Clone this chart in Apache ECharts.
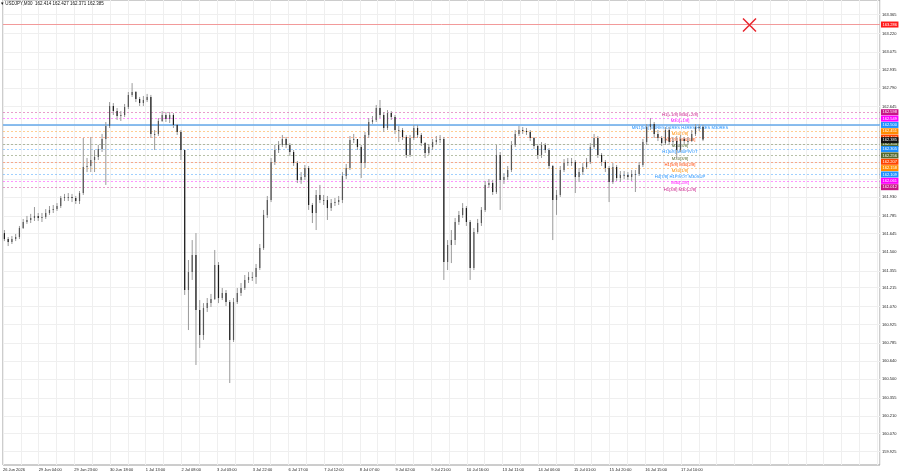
<!DOCTYPE html>
<html>
<head>
<meta charset="utf-8">
<title>USDJPY,M30</title>
<script src="https://cdn.jsdelivr.net/npm/echarts@6.0.0/dist/echarts.min.js"></script>
<style>
  html, body { margin: 0; padding: 0; background: #fff; }
  #chart { width: 900px; height: 474px; }
</style>
</head>
<body>
<div id="chart"></div>
<script>
// USDJPY M30, shown here as 2-hour candles (4 M30 bars each)
var SYMBOL = 'USDJPY,M30';
var LAST_OHLC = [162.414, 162.427, 162.371, 162.385];
var BARS_PER_CANDLE = 4;
var LAST_BAR = 747;          // index of the last M30 bar
var X_MAX = 934;             // empty space on the right (chart shift)
var Y_MIN = 159.824;
var Y_MAX = 163.483;
var FIRST_OPEN = 161.649;

var closes = [
  161.602, 161.578, 161.602, 161.618, 161.689, 161.736, 161.752, 161.768, 161.784, 161.768,
  161.776, 161.807, 161.831, 161.838, 161.862, 161.925, 161.933, 161.933, 161.925, 161.901,
  161.964, 162.169, 162.177, 162.224, 162.248, 162.310, 162.389, 162.492, 162.649, 162.609,
  162.570, 162.578, 162.641, 162.736, 162.759, 162.704, 162.672, 162.696, 162.720, 162.429,
  162.429, 162.531, 162.578, 162.546, 162.578, 162.500, 162.444, 162.303, 161.201, 161.342,
  161.477, 161.044, 160.847, 161.059, 161.098, 161.130, 161.398, 161.138, 161.177, 161.106,
  160.808, 161.106, 161.177, 161.217, 161.280, 161.303, 161.303, 161.374, 161.531, 161.792,
  161.909, 162.208, 162.303, 162.342, 162.389, 162.342, 162.287, 162.200, 162.067, 162.090,
  162.161, 161.870, 161.807, 161.949, 161.909, 161.909, 161.846, 161.885, 161.893, 161.909,
  162.098, 162.161, 162.381, 162.389, 162.326, 162.200, 162.421, 162.523, 162.539, 162.633,
  162.578, 162.476, 162.594, 162.562, 162.460, 162.460, 162.405, 162.264, 162.397, 162.476,
  162.421, 162.357, 162.279, 162.326, 162.365, 162.381, 162.389, 161.421, 161.555, 161.594,
  161.736, 161.792, 161.846, 161.736, 161.374, 161.657, 161.728, 161.831, 162.028, 162.043,
  161.972, 162.264, 162.067, 162.090, 162.145, 162.342, 162.429, 162.460, 162.452, 162.444,
  162.397, 162.334, 162.264, 162.342, 162.303, 162.177, 161.909, 161.949, 162.145, 162.200,
  162.208, 162.208, 162.090, 162.129, 162.169, 162.208, 162.326, 162.397, 162.264, 162.208,
  162.161, 162.051, 162.169, 162.082, 162.106, 162.106, 162.090, 162.114, 162.114, 162.185,
  162.365, 162.484, 162.507, 162.429, 162.397, 162.357, 162.460, 162.365, 162.373, 162.303,
  162.389, 162.373, 162.373, 162.429, 162.484, 162.484, 162.385
];
var highs = [
  161.673, 161.618, 161.626, 161.642, 161.705, 161.760, 161.784, 161.800, 161.854, 161.807,
  161.807, 161.838, 161.862, 161.870, 161.885, 161.941, 161.957, 161.964, 161.957, 161.941,
  161.980, 162.397, 162.240, 162.405, 162.303, 162.342, 162.429, 162.523, 162.680, 162.672,
  162.633, 162.609, 162.665, 162.759, 162.829, 162.767, 162.720, 162.728, 162.744, 162.736,
  162.460, 162.554, 162.609, 162.601, 162.601, 162.593, 162.508, 162.460, 162.303, 161.437,
  161.594, 161.649, 161.122, 161.098, 161.138, 161.170, 161.516, 161.421, 161.217, 161.201,
  161.122, 161.138, 161.217, 161.256, 161.319, 161.342, 161.342, 161.406, 161.563, 161.831,
  161.941, 162.240, 162.342, 162.373, 162.421, 162.405, 162.357, 162.303, 162.216, 162.129,
  162.185, 162.177, 161.885, 161.988, 162.028, 161.949, 161.941, 161.917, 161.925, 161.941,
  162.129, 162.193, 162.413, 162.429, 162.389, 162.342, 162.444, 162.554, 162.570, 162.657,
  162.696, 162.601, 162.617, 162.609, 162.578, 162.492, 162.476, 162.421, 162.421, 162.500,
  162.500, 162.436, 162.365, 162.350, 162.389, 162.413, 162.421, 162.405, 161.594, 161.673,
  161.768, 161.823, 161.885, 161.862, 161.752, 161.689, 161.760, 161.854, 162.059, 162.074,
  162.067, 162.342, 162.287, 162.121, 162.177, 162.373, 162.460, 162.492, 162.484, 162.476,
  162.460, 162.405, 162.350, 162.365, 162.357, 162.318, 162.185, 161.988, 162.177, 162.232,
  162.240, 162.240, 162.224, 162.161, 162.200, 162.240, 162.357, 162.429, 162.413, 162.279,
  162.224, 162.177, 162.200, 162.185, 162.137, 162.137, 162.129, 162.145, 162.145, 162.208,
  162.389, 162.507, 162.554, 162.523, 162.460, 162.413, 162.484, 162.484, 162.405, 162.413,
  162.421, 162.405, 162.405, 162.460, 162.507, 162.507, 162.500
];
var lows = [
  161.586, 161.547, 161.563, 161.586, 161.602, 161.681, 161.721, 161.728, 161.744, 161.744,
  161.736, 161.760, 161.792, 161.807, 161.823, 161.846, 161.901, 161.901, 161.893, 161.878,
  161.878, 161.949, 162.129, 162.129, 162.129, 162.224, 162.287, 162.028, 162.476, 162.578,
  162.539, 162.531, 162.562, 162.625, 162.720, 162.680, 162.649, 162.649, 162.680, 162.397,
  162.303, 162.413, 162.523, 162.523, 162.515, 162.476, 162.421, 162.224, 161.162, 160.886,
  161.280, 160.611, 160.745, 160.808, 161.028, 161.067, 161.122, 161.098, 161.122, 161.075,
  160.469, 160.792, 161.091, 161.154, 161.201, 161.256, 161.272, 161.249, 161.358, 161.516,
  161.768, 161.893, 162.185, 162.279, 162.326, 162.318, 162.256, 162.177, 162.043, 162.036,
  162.067, 161.831, 161.728, 161.673, 161.885, 161.870, 161.752, 161.823, 161.862, 161.870,
  161.885, 162.074, 162.145, 162.357, 162.303, 162.082, 162.161, 162.397, 162.508, 162.523,
  162.554, 162.444, 162.460, 162.539, 162.429, 162.365, 162.381, 162.240, 162.248, 162.381,
  162.397, 162.334, 162.240, 162.264, 162.303, 162.342, 162.357, 161.280, 161.358, 161.413,
  161.555, 161.713, 161.768, 161.705, 161.280, 161.358, 161.642, 161.705, 161.815, 162.004,
  161.949, 161.957, 161.831, 162.036, 162.067, 162.129, 162.326, 162.413, 162.429, 162.421,
  162.373, 162.310, 162.232, 162.240, 162.279, 162.153, 161.594, 161.792, 161.933, 162.129,
  162.177, 162.177, 161.964, 162.051, 162.106, 162.153, 162.193, 162.310, 162.240, 162.177,
  162.129, 161.893, 162.036, 162.059, 162.051, 162.074, 162.067, 162.059, 161.972, 162.098,
  162.169, 162.342, 162.460, 162.397, 162.373, 162.334, 162.342, 162.342, 162.334, 162.240,
  162.287, 162.350, 162.350, 162.365, 162.413, 162.452, 162.373
];

// price scale ticks (the ones behind the level boxes are not labelled)
var Y_TICKS = [163.365, 163.220, 163.075, 162.935, 162.790, 162.645, 162.500, 162.355, 162.210,
  162.070, 161.930, 161.785, 161.645, 161.500, 161.355, 161.215, 161.070, 160.925, 160.785,
  160.640, 160.500, 160.355, 160.210, 160.070, 159.925];
var Y_HIDDEN = [162.500, 162.355, 162.210, 162.070];

// murrey levels
var LEVEL_PRICES = [162.598, 162.549, 162.500, 162.451, 162.402, 162.354, 162.305, 162.256,
  162.207, 162.158, 162.109, 162.061, 162.012];
var LEVEL_TEXTS = ['H1[+1/8] M30[+2/8]', 'M30[+1/8]', 'MN1[5/8] W1RES D1RES H4RES H1RES M30RES',
  'M30[7/8]', 'H1[7/8] M30[6/8]', 'M30[5/8]', 'H1[6/8] M30PIVOT', 'M30[3/8]', 'H1[5/8] M30[2/8]',
  'M30[1/8]', 'H4[7/8] H1PIVOT M30SUP', 'M30[-1/8]', 'H1[3/8] M30[-2/8]'];
var LEVEL_COLORS = ['#c71585', '#ff00ff', '#1e90ff', '#ff8c00', '#ff4500', '#556b2f', '#1e90ff',
  '#556b2f', '#ff4500', '#ff8c00', '#1e90ff', '#ff00ff', '#c71585'];
var LABEL_BAR = 721;

var ALERT_PRICE = 163.286;
var ALERT_MARK_BAR = 795;

var MONTHS = ['Jan', 'Feb', 'Mar', 'Apr', 'May', 'Jun', 'Jul', 'Aug', 'Sep', 'Oct', 'Nov', 'Dec'];
var START = Date.UTC(2026, 5, 26, 9, 0);

function barTime(i) {
  var t = START, n = 0;
  while (n < i) {
    t += 1800000;
    var d = new Date(t).getUTCDay();
    if (d === 6 || d === 0) continue;
    n++;
  }
  return new Date(t);
}
function pad(n) { return (n < 10 ? '0' : '') + n; }
function timeLabel(i) {
  var t = barTime(i);
  var day = t.getUTCDate() + ' ' + MONTHS[t.getUTCMonth()];
  if (i === 0) return day + ' ' + t.getUTCFullYear();
  return day + ' ' + pad(t.getUTCHours()) + ':' + pad(t.getUTCMinutes());
}
// hex colour -> faded rgba, for the dotted level lines
function fade(hex, a) {
  var n = parseInt(hex.slice(1), 16);
  return 'rgba(' + (n >> 16) + ',' + ((n >> 8) & 255) + ',' + (n & 255) + ',' + a + ')';
}

var candleData = closes.map(function (c, k) {
  var o = k === 0 ? FIRST_OPEN : closes[k - 1];
  return [k * BARS_PER_CANDLE + (BARS_PER_CANDLE - 1) / 2, o, c,
    Math.min(lows[k], o, c), Math.max(highs[k], o, c)];
});

function renderCandle(params, api) {
  var x = api.value(0), o = api.value(1), c = api.value(2);
  var pHi = api.coord([x, api.value(4)]);
  var pLo = api.coord([x, api.value(3)]);
  var top = api.coord([x, Math.max(o, c)]);
  var bot = api.coord([x, Math.min(o, c)]);
  var w = api.size([BARS_PER_CANDLE, 0])[0] * 0.32;
  var cx = pHi[0];
  return {
    type: 'group',
    children: [
      { type: 'line', shape: { x1: cx, y1: pHi[1], x2: cx, y2: pLo[1] },
        style: { stroke: '#9a9a9a', lineWidth: 1 } },
      { type: 'rect', shape: { x: cx - w / 2, y: top[1], width: w, height: Math.max(bot[1] - top[1], 1) },
        style: { fill: c >= o ? '#555' : '#1a1a1a' } }
    ]
  };
}

var boxLabel = function (color, text) {
  return { show: true, position: 'end', distance: 1, formatter: text, backgroundColor: color,
    color: '#fff', fontSize: 4, fontFamily: 'Liberation Sans', padding: [1, 1.5], lineHeight: 4,
    opacity: 1 };
};

var levelLines = LEVEL_PRICES.map(function (p, i) {
  var solid = i === 2;
  return {
    yAxis: p,
    lineStyle: { color: solid ? '#64a8ea' : fade(LEVEL_COLORS[i], 0.42), type: solid ? 'solid' : [2, 2],
      width: solid ? 1.5 : 1 },
    label: boxLabel(LEVEL_COLORS[i], p.toFixed(3))
  };
});
levelLines.unshift({
  yAxis: ALERT_PRICE,
  lineStyle: { color: '#f29a9a', type: 'solid', width: 1 },
  label: boxLabel('#ff1a1a', ALERT_PRICE.toFixed(3))
});
levelLines.push({
  yAxis: LAST_OHLC[3],
  lineStyle: { color: 'rgba(0,0,0,0)' },
  label: boxLabel('#111', LAST_OHLC[3].toFixed(3))
});

var levelTexts = LEVEL_TEXTS.map(function (t, i) {
  return {
    coord: [LABEL_BAR, LEVEL_PRICES[i]], symbolSize: 0,
    label: { show: true, position: 'bottom', distance: 0.5, formatter: t, color: LEVEL_COLORS[i],
      fontSize: 4.2, fontFamily: 'Liberation Sans' }
  };
});
levelTexts.push({
  coord: [ALERT_MARK_BAR, ALERT_PRICE], symbol: 'path://M0,0L10,10M10,0L0,10', symbolSize: 13,
  itemStyle: { color: 'rgba(0,0,0,0)', borderColor: '#e8262e', borderWidth: 1.5 },
  label: { show: false }
});

var chart = echarts.init(document.getElementById('chart'), null, { renderer: 'canvas' });
chart.setOption({
  backgroundColor: '#ffffff',
  animation: false,
  title: {
    text: '\u25BE ' + SYMBOL + '  ' + LAST_OHLC.map(function (v) { return v.toFixed(3); }).join(' '),
    left: 1, top: 1, padding: 0,
    textStyle: { fontSize: 4.5, fontWeight: 'normal', color: '#111', fontFamily: 'Liberation Sans' }
  },
  grid: { left: 2, right: 20, top: 0, bottom: 9, show: true, borderColor: '#9a9a9a', borderWidth: 1,
    backgroundColor: '#fff' },
  xAxis: {
    type: 'value', min: 0, max: X_MAX, interval: 19,
    axisLine: { show: false }, axisTick: { show: false },
    axisLabel: {
      fontSize: 4, color: '#222', fontFamily: 'Liberation Sans', align: 'left', margin: 3,
      showMaxLabel: false, hideOverlap: false,
      formatter: function (v) {
        var i = Math.round(v);
        return (i % 38 === 0 && i <= LAST_BAR) ? timeLabel(i) : '';
      }
    },
    splitLine: { show: true, lineStyle: { color: '#efefef', width: 1 } }
  },
  yAxis: {
    type: 'value', position: 'right', min: Y_MIN, max: Y_MAX, scale: true,
    axisLine: { show: false }, axisTick: { show: false },
    axisLabel: {
      fontSize: 4, color: '#222', fontFamily: 'Liberation Sans', margin: 2,
      customValues: Y_TICKS.filter(function (v) { return Y_HIDDEN.indexOf(v) < 0; }),
      formatter: function (v) { return v.toFixed(3); }
    },
    splitLine: { show: false }
  },
  series: [
    {
      type: 'line', data: [], silent: true, z: 1,
      markLine: {
        silent: true, symbol: ['none', 'none'], animation: false, z: 1,
        label: { show: false },
        lineStyle: { color: '#efefef', type: 'solid', width: 1 },
        data: Y_TICKS.map(function (v) { return { yAxis: v }; })
      }
    },
    {
      type: 'custom', name: SYMBOL, z: 3, clip: true,
      renderItem: renderCandle,
      encode: { x: 0, y: [1, 2, 3, 4] },
      data: candleData,
      markLine: { silent: true, symbol: ['none', 'none'], animation: false, z: 2, data: levelLines },
      markPoint: { silent: true, animation: false, z: 2, data: levelTexts }
    }
  ]
});
</script>
</body>
</html>
